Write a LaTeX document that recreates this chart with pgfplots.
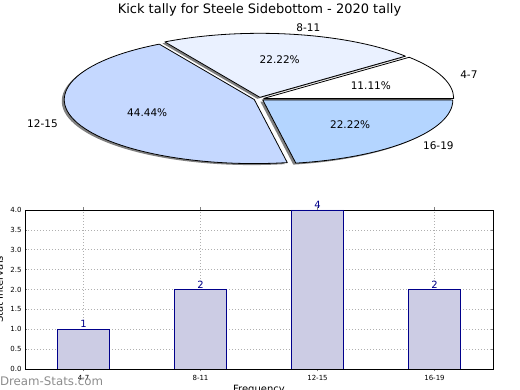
\documentclass[border=0pt]{standalone}
\usepackage{pgfplots}
\pgfplotsset{compat=1.18}
\usepackage{fontspec}
\setmainfont{DejaVu Sans}
\definecolor{pieA}{RGB}{255,255,255}
\definecolor{pieB}{RGB}{234,241,255}
\definecolor{pieC}{RGB}{197,216,255}
\definecolor{pieD}{RGB}{180,213,255}
\definecolor{barfill}{RGB}{204,204,228}
\definecolor{barEdge}{RGB}{0,0,139}
\definecolor{gridc}{RGB}{176,176,176}
\begin{document}
\begin{tikzpicture}
\path[use as bounding box] (0pt,0pt) rectangle (520pt,390pt);
% ---------------- pie ----------------
\begin{axis}[at={(0pt,0pt)}, anchor=south west, scale only axis,
  width=520pt, height=390pt, xmin=0, xmax=520, ymin=0, ymax=390,
  hide axis, clip=false]
\pgfplotsextra{
  \def\cx{259}\def\cy{291}\def\rx{190}\def\ry{64}\def\ex{5}\def\ey{1.7}\def\tot{9}
  % shadows
  \gdef\cum{0}
  \foreach \v in {1,2,4,2}{
    \pgfmathsetmacro\s{360*\cum/\tot}
    \pgfmathsetmacro\e{360*(\cum+\v)/\tot}
    \pgfmathsetmacro\m{(\s+\e)/2}
    \pgfmathsetmacro\ox{\cx+\ex*cos(\m)-2.5}
    \pgfmathsetmacro\oy{\cy+\ey*sin(\m)-1.5}
    \fill[black!50] (axis cs:\ox,\oy) -- ++(\s:\rx pt and \ry pt)
      arc[start angle=\s, end angle=\e, x radius=\rx pt, y radius=\ry pt] -- cycle;
    \pgfmathsetmacro\nc{\cum+\v}\xdef\cum{\nc}
  }
  % wedges and labels
  \gdef\cum{0}
  \foreach \v/\lab/\col in {1/4-7/pieA, 2/8-11/pieB, 4/12-15/pieC, 2/16-19/pieD}{
    \pgfmathsetmacro\s{360*\cum/\tot}
    \pgfmathsetmacro\e{360*(\cum+\v)/\tot}
    \pgfmathsetmacro\m{(\s+\e)/2}
    \pgfmathsetmacro\ox{\cx+\ex*cos(\m)}
    \pgfmathsetmacro\oy{\cy+\ey*sin(\m)}
    \filldraw[fill=\col, draw=black, line width=0.8pt, line join=round] (axis cs:\ox,\oy) -- ++(\s:\rx pt and \ry pt)
      arc[start angle=\s, end angle=\e, x radius=\rx pt, y radius=\ry pt] -- cycle;
    \pgfmathsetmacro\px{\ox+0.6*\rx*cos(\m)}
    \pgfmathsetmacro\py{\oy+0.6*\ry*sin(\m)}
    \pgfmathsetmacro\pct{100*\v/\tot}
    \node[font=\fontsize{10.5}{12}\selectfont] at (axis cs:\px,\py)
      {\pgfmathprintnumber[fixed,precision=2,fixed zerofill,assume math mode=true]{\pct}\%};
    \pgfmathsetmacro\lx{\ox+1.1*\rx*cos(\m)}
    \pgfmathsetmacro\ly{\oy+1.1*\ry*sin(\m)}
    \pgfmathsetmacro\cm{cos(\m)}
    \ifdim\cm pt>0pt \def\anc{west}\else\def\anc{east}\fi
    \node[font=\fontsize{10.5}{12}\selectfont, anchor=\anc, inner sep=0pt] at (axis cs:\lx,\ly) {\lab};
    \pgfmathsetmacro\nc{\cum+\v}\xdef\cum{\nc}
  }
}
\end{axis}
\node[font=\fontsize{13}{15}\selectfont] at (259.5pt,380pt) {Kick tally for Steele Sidebottom - 2020 tally};
% ---------------- bars ----------------
\begin{axis}[at={(25pt,21pt)}, anchor=south west, scale only axis,
  width=468pt, height=159pt,
  xmin=-0.5, xmax=3.5, ymin=0, ymax=4,
  ybar, bar width=0.45,
  xtick={0,1,2,3}, xticklabels={4-7,8-11,12-15,16-19},
  ytick={0,0.5,1,1.5,2,2.5,3,3.5,4},
  yticklabel style={/pgf/number format/.cd, fixed, fixed zerofill, precision=1},
  /pgf/number format/assume math mode=true,
  tick label style={font=\fontsize{7}{8}\selectfont},
  grid=major, major grid style={dash pattern=on 1pt off 2pt, gridc, line width=0.6pt},
  tick style={black!50, line width=0.5pt}, major tick length=2.5pt,
  axis line style={line width=0.8pt},
  nodes near coords,
  nodes near coords style={font=\fontsize{10}{12}\selectfont, text=barEdge, inner sep=1pt},
  xlabel={Frequency}, ylabel={Stat Intervals},
  label style={font=\fontsize{10}{12}\selectfont},
  xlabel style={at={(axis description cs:0.5,-0.13)}, anchor=center},
  ylabel style={at={(axis description cs:-0.055,0.5)}, anchor=center},
]
\addplot[fill=barfill, draw=barEdge, line width=0.8pt] coordinates {(0,1) (1,2) (2,4) (3,2)};
\end{axis}
\node[font=\fontsize{11.8}{13}\selectfont, text=black!50, opacity=0.9] at (51.5pt,9pt) {Dream-Stats.com};
\end{tikzpicture}
\end{document}
